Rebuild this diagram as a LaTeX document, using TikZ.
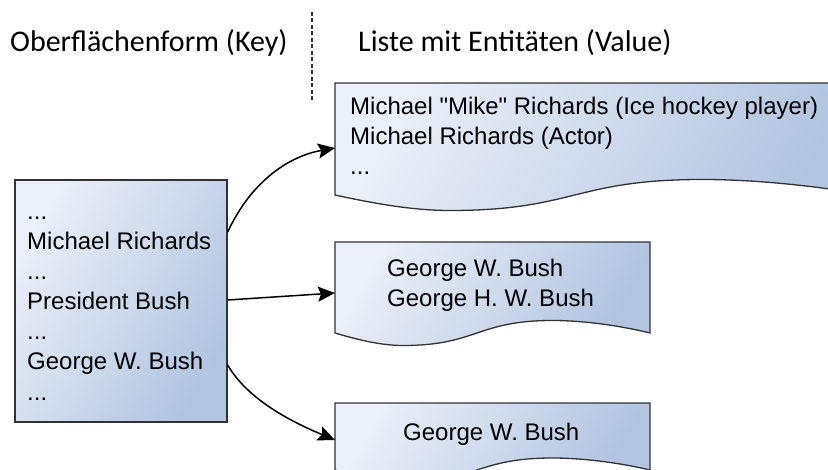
\documentclass[tikz,border=0pt]{standalone}
\usepackage{fontspec}
\setmainfont{Liberation Sans}[Ligatures=TeXOff]
\newfontfamily\hdrfont{Carlito}
\usetikzlibrary{arrows.meta}
\definecolor{boxlight}{RGB}{234,239,248}
\definecolor{boxdark}{RGB}{178,196,224}
\definecolor{edge}{RGB}{50,50,50}
\newcommand\docpath[5]{% L T W B a
  (#1,#2) -- ({#1+#3},#2) -- ({#1+#3},#4)
  .. controls ({#1+0.92*#3},{#4-0.5*#5}) and ({#1+0.8*#3},{#4-#5}) .. ({#1+0.69*#3},{#4-#5})
  .. controls ({#1+0.45*#3},{#4-#5}) and ({#1+0.45*#3},{#4+#5}) .. ({#1+0.216*#3},{#4+#5})
  .. controls ({#1+0.15*#3},{#4+#5}) and ({#1+0.08*#3},{#4+0.6*#5}) .. (#1,#4) -- cycle}
\tikzset{
  fillgrad/.style={top color=boxlight, bottom color=boxdark, shading angle=60},
  outline/.style={draw=edge, line width=1.3bp},
  keybox/.style={fillgrad, outline, rectangle, inner sep=0pt},
  hdr/.style={font=\hdrfont\fontsize{30bp}{36bp}\selectfont, anchor=base west, inner sep=0pt},
  txt/.style={font=\fontsize{24bp}{30bp}\selectfont, anchor=base west, inner sep=0pt, text=black},
  conn/.style={line width=1.5bp, black, -{Stealth[length=17bp,width=15bp,inset=3bp]}},
  divider/.style={draw=edge, line width=1.2bp, dash pattern=on 4bp off 2.5bp}
}
\begin{document}
\begin{tikzpicture}[x=1bp,y=-1bp]
\useasboundingbox (0,0) rectangle (828,470);
\clip (0,0) rectangle (828,470);
% headers
\node[hdr] (keyhdr) at (10,52) {Oberflächenform (Key)};
\node[hdr] (valhdr) at (358,52) {Liste mit Entitäten (Value)};
\coordinate (divtop) at (312,12);
\coordinate (divbot) at (312,100);
\draw[divider] (divtop) -- (divbot);
% key box
\node[keybox, minimum width=212bp, minimum height=242bp] (key) at (121,301) {};
\node[txt] (k1) at (27,220) {...};
\node[txt] (k2) at (27,250) {Michael Richards};
\node[txt] (k3) at (27,280) {...};
\node[txt] (k4) at (27,310) {President Bush};
\node[txt] (k5) at (27,340) {...};
\node[txt] (k6) at (27,370) {George W. Bush};
\node[txt] (k7) at (27,400) {...};
% value documents
\shade[fillgrad] \docpath{335}{83}{532}{195}{15.5};
\draw[outline] \docpath{335}{83}{532}{195}{15.5};
\shade[fillgrad] \docpath{335}{242}{315}{333}{12.5};
\draw[outline] \docpath{335}{242}{315}{333}{12.5};
\shade[fillgrad] \docpath{335}{403}{315}{470}{12};
\draw[outline] \docpath{335}{403}{315}{470}{12};
\node[txt] (v11) at (350,115) {Michael "Mike" Richards (Ice hockey player)};
\node[txt] (v12) at (350,145) {Michael Richards (Actor)};
\node[txt] (v13) at (350,175) {...};
\node[txt] (v21) at (387,277) {George W. Bush};
\node[txt] (v22) at (387,307) {George H. W. Bush};
\node[txt] (v31) at (403,440) {George W. Bush};
% connectors
\coordinate (s1) at (key.east |- 0,232);
\coordinate (s2) at (key.east |- 0,300);
\coordinate (s3) at (key.east |- 0,365);
\coordinate (t1) at (335,148);
\coordinate (t2) at (335,293);
\coordinate (t3) at (335,440);
\draw[conn] (s1) .. controls (252,180) and (290,156) .. (t1);
\draw[conn] (s2) -- (t2);
\draw[conn] (s3) .. controls (248,400) and (292,422) .. (t3);
\end{tikzpicture}
\end{document}
